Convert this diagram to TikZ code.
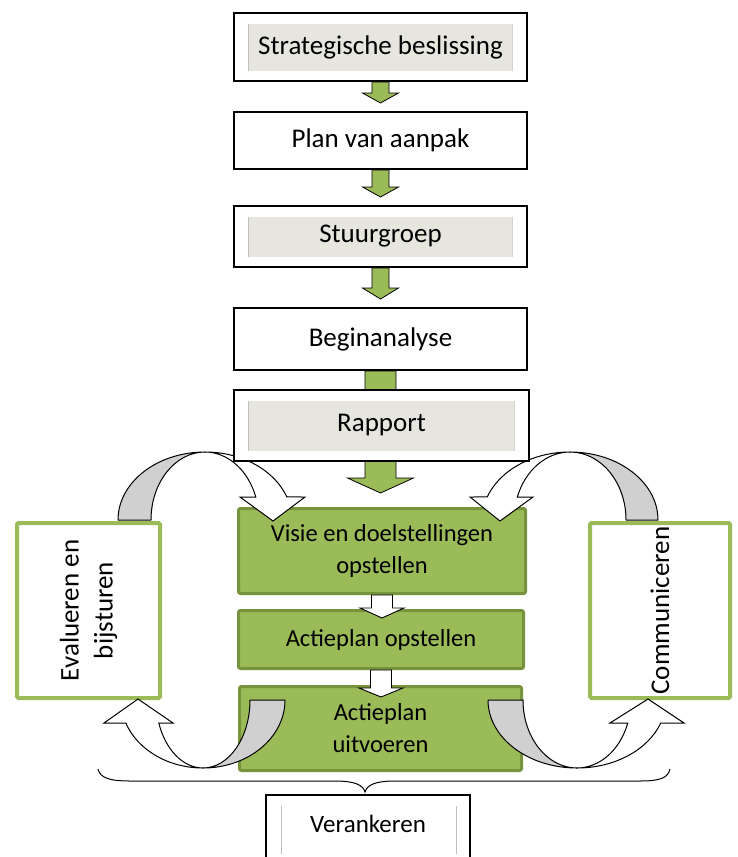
\documentclass[tikz,border=0pt]{standalone}
\usepackage{fontspec}
\setmainfont{Carlito}
\usetikzlibrary{calc}
\definecolor{accgreen}{HTML}{9BBB59}
\definecolor{darkgreen}{HTML}{77933C}
\definecolor{innergray}{HTML}{E7E6DE}
\definecolor{edgegray}{HTML}{BFBFBF}
\definecolor{tailgray}{HTML}{D0D0D0}
\tikzset{
 blackbox/.style={draw=black, line width=1.6pt, fill=white, inner sep=0pt, font=\fontsize{27}{32}\selectfont},
 panelbox/.style={blackbox, path picture={
   \fill[innergray] ($(path picture bounding box.south west)+(15pt,10pt)$) rectangle ($(path picture bounding box.north east)+(-15pt,-11pt)$);
   \draw[edgegray, line width=1pt] ($(path picture bounding box.south west)+(15pt,10pt)$) -- ($(path picture bounding box.north west)+(15pt,-11pt)$);
   \draw[edgegray!70, line width=1pt] ($(path picture bounding box.south east)+(-15pt,10pt)$) -- ($(path picture bounding box.north east)+(-15pt,-11pt)$);
 }},
 linebox/.style={blackbox, font=\fontsize{25}{30}\selectfont, path picture={
   \draw[edgegray, line width=1pt] ($(path picture bounding box.north west)+(15pt,-11pt)$) -- ++(0,-48pt);
   \draw[edgegray, line width=1pt] ($(path picture bounding box.north east)+(-14pt,-11pt)$) -- ++(0,-48pt);
 }},
 greenbox/.style={draw=darkgreen, line width=3pt, fill=accgreen, rounded corners=2pt, inner sep=0pt, align=center, font=\fontsize{24.5}{32}\selectfont},
 sidebox/.style={draw=accgreen, line width=4pt, fill=white, rounded corners=1.5pt, inner sep=0pt, rotate=90, align=center, font=\fontsize{27}{34}\selectfont},
 greenarrow/.style={draw=black, line width=0.8pt, fill=accgreen, line join=miter},
 whitearrow/.style={draw=black, line width=0.9pt, fill=white, line join=miter},
 tailpart/.style={draw=black, line width=1pt, fill=tailgray, line join=round},
 headpart/.style={draw=black, line width=1pt, fill=white, line join=miter},
 bracepath/.style={draw=black, line width=1pt},
}
% #1 style, #2 from, #3 to, #4 half shaft, #5 half head, #6 head length, #7 signed tip offset
\newcommand\blockarrow[7]{%
  \draw[#1] let \p1=(#2.south), \p2=(#3.north) in
    (\x1-#4pt,\y1) -- (\x1+#4pt,\y1) -- (\x1+#4pt,\y2#7pt+#6pt) -- (\x1+#5pt,\y2#7pt+#6pt)
    -- (\x1,\y2#7pt) -- (\x1-#5pt,\y2#7pt+#6pt) -- (\x1-#4pt,\y2#7pt+#6pt) -- cycle;}
\begin{document}
\begin{tikzpicture}[x=1pt,y=-1pt]
\clip (0,0) rectangle (738,857);
\fill[white] (0,0) rectangle (738,857);

% side boxes
\node[sidebox, minimum width=175pt, minimum height=143pt] (eval) at (88.5,610.5) {Evalueren en\\bijsturen};
\node[sidebox, minimum width=175pt, minimum height=140pt] (comm) at (660,610.5) {Communiceren};

% green boxes
\node[greenbox, minimum width=287pt, minimum height=85pt] (visie) at (382,551) {Visie en doelstellingen\\opstellen};
\node[greenbox, minimum width=285pt, minimum height=58pt] (opst) at (381,639.5) {Actieplan opstellen};
\node[greenbox, minimum width=282pt, minimum height=84pt] (uitv) at (380.5,728.5) {Actieplan\\uitvoeren};

\blockarrow{whitearrow}{visie}{opst}{10.5}{22}{10}{-9}
\blockarrow{whitearrow}{opst}{uitv}{10.5}{22}{9}{-12}

% curved arrows
\coordinate (tlc) at (205,520);
\draw[tailpart] (118,520) arc[start angle=180, end angle=270, x radius=87, y radius=68]
  arc[start angle=270, end angle=180, x radius=54, y radius=68] -- cycle;
\draw[headpart] (205,452) arc[start angle=270, end angle=340.2, x radius=87, y radius=68]
  -- (305,497) -- (273,521) -- (240,497) -- (255.8,497)
  arc[start angle=340.2, end angle=270, x radius=54, y radius=68] -- cycle;

\draw[tailpart] (658,520) arc[start angle=0, end angle=-90, x radius=88, y radius=68]
  arc[start angle=-90, end angle=0, x radius=56, y radius=68] -- cycle;
\draw[headpart] (570,452) arc[start angle=-90, end angle=-160.2, x radius=88, y radius=68]
  -- (470,497) -- (500,521) -- (533,497) -- (517.3,497)
  arc[start angle=-160.2, end angle=-90, x radius=56, y radius=68] -- cycle;

\draw[tailpart] (285,700) arc[start angle=0, end angle=90, x radius=82, y radius=68]
  arc[start angle=90, end angle=0, x radius=47, y radius=68] -- cycle;
\draw[headpart] (203,768) arc[start angle=90, end angle=160.2, x radius=82, y radius=68]
  -- (104,723) -- (138,699) -- (173,723) -- (158.8,723)
  arc[start angle=160.2, end angle=90, x radius=47, y radius=68] -- cycle;

\draw[tailpart] (488,700) arc[start angle=180, end angle=90, x radius=89, y radius=68]
  arc[start angle=90, end angle=180, x radius=54, y radius=68] -- cycle;
\draw[headpart] (577,768) arc[start angle=90, end angle=19.8, x radius=89, y radius=68]
  -- (684,723) -- (648,699) -- (610,723) -- (627.8,723)
  arc[start angle=19.8, end angle=90, x radius=54, y radius=68] -- cycle;

% main column
\node[panelbox, minimum width=293.4pt, minimum height=68.4pt] (b1) at (380.5,47) {Strategische beslissing};
\node[blackbox, minimum width=293.4pt, minimum height=57.4pt] (b2) at (380.5,140.5) {Plan van aanpak};
\node[panelbox, minimum width=293.4pt, minimum height=61.4pt] (b3) at (380.5,236.5) {Stuurgroep};
\node[blackbox, minimum width=293.4pt, minimum height=62.4pt] (b4) at (380.5,339) {Beginanalyse};

\blockarrow{greenarrow}{b1}{b2}{8.5}{18}{10}{+8}
\blockarrow{greenarrow}{b2}{b3}{8.5}{18}{10}{+8}
\blockarrow{greenarrow}{b3}{b4}{8.5}{18}{11}{+8}
\blockarrow{greenarrow}{b4}{visie}{15.5}{33}{15}{+14}

\node[panelbox, minimum width=295.4pt, minimum height=71.4pt] (b5) at (381.5,425.5) {Rapport};

% brace and Verankeren
\draw[bracepath] (98,769) .. controls (100,778) and (110,781) .. (130,781) -- (335,781)
  .. controls (355,781) and (363,785) .. (365,792)
  .. controls (367,785) and (375,781) .. (395,781) -- (640,781)
  .. controls (660,781) and (668,778) .. (670,769);
\node[linebox, anchor=north, minimum width=204pt, text height=38pt, text depth=36pt] (ver) at (368,794) {Verankeren};
\end{tikzpicture}
\end{document}
